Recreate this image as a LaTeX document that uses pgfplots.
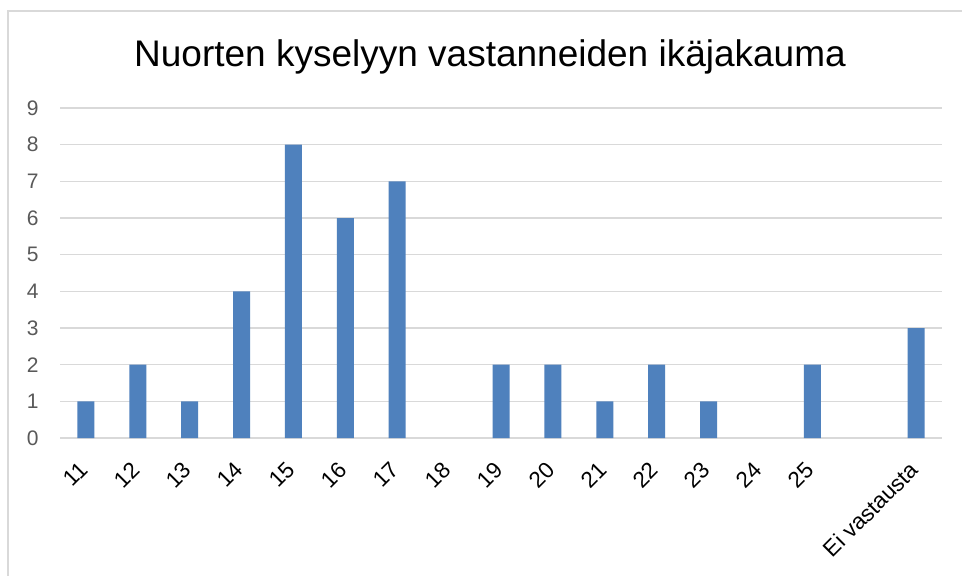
\documentclass[border=0pt]{standalone}
\usepackage{pgfplots}
\pgfplotsset{compat=1.18}
\usepackage{fontspec}
\setmainfont{Liberation Sans}
\definecolor{barblue}{RGB}{79,129,189}
\definecolor{gridgray}{RGB}{217,217,217}
\definecolor{labgray}{RGB}{89,89,89}
\begin{document}
\begin{tikzpicture}[x=1pt,y=1pt]
\useasboundingbox (0,0) rectangle (962,576);
\fill[white] (0,0) rectangle (962,576);
\draw[gridgray,line width=1.5pt] (8,-10) -- (8,565) -- (980,565);
\node[anchor=base,font=\fontsize{37}{40}\selectfont] at (490,509) {Nuorten kyselyyn vastanneiden ikäjakauma};
\begin{axis}[
  at={(60pt,138pt)}, anchor=south west,
  scale only axis, width=882pt, height=330pt,
  xmin=-0.5, xmax=16.5, ymin=0, ymax=9,
  axis line style={draw=none},
  axis x line*=bottom,
  ytick={0,...,9},
  ymajorgrids, grid style={gridgray,line width=1.5pt},
  major tick length=0pt,
  xtick={0,...,14,16},
  xticklabels={11,12,13,14,15,16,17,18,19,20,21,22,23,24,25,Ei vastausta},
  /pgf/number format/assume math mode=true,
  yticklabel style={font=\fontsize{21}{24}\selectfont, text=labgray, xshift=-18pt},
  xticklabel style={font=\fontsize{22.5}{25}\selectfont, text=black, inner sep=0pt, xshift=-8pt, yshift=-22pt, rotate=45, anchor=north east},
  extra y ticks={0},
  extra y tick labels={},
  extra y tick style={grid style={gridgray,line width=1.5pt}},
  restrict y to domain=0.5:100,
]
\addplot[ybar, bar width=17pt, fill=barblue, draw=none] coordinates {
(0,1) (1,2) (2,1) (3,4) (4,8) (5,6) (6,7) (7,0) (8,2) (9,2) (10,1) (11,2) (12,1) (13,0) (14,2) (15,0) (16,3)
};
\end{axis}
\end{tikzpicture}
\end{document}
